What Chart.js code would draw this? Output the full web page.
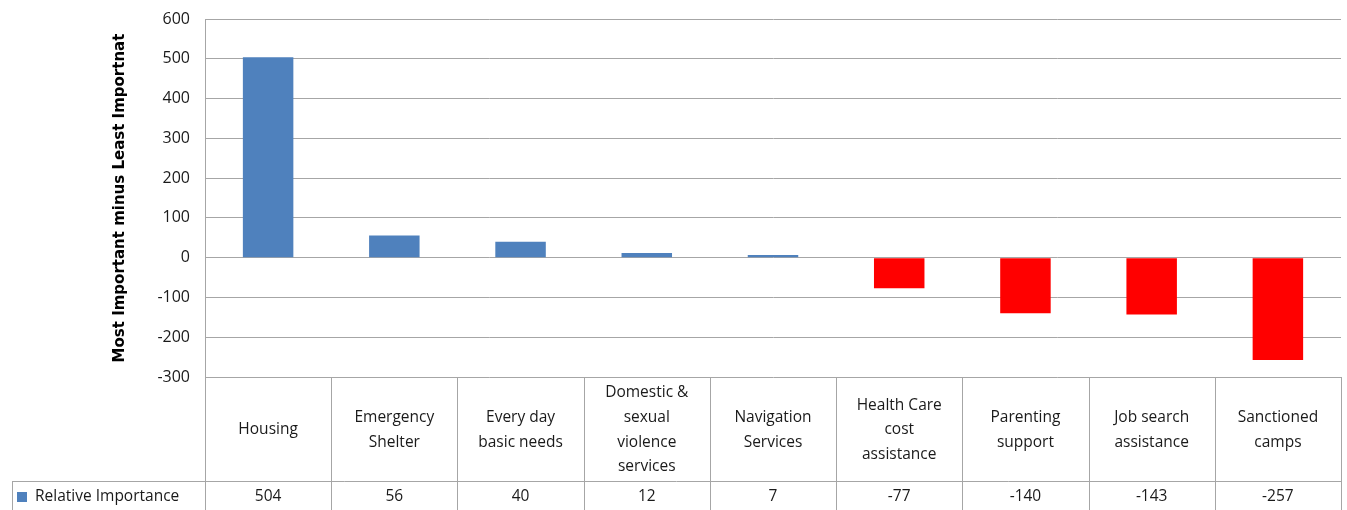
<!DOCTYPE html>
<html>
<head>
<meta charset="utf-8">
<script src="https://cdn.jsdelivr.net/npm/chart.js@4"></script>
<style>
  html, body { margin: 0; padding: 0; background: #fff; }
  #wrap { width: 1347px; height: 510px; }
</style>
</head>
<body>
<div id="wrap"><canvas id="myChart" width="1347" height="510"></canvas></div>
<script>
// ===== data =====
const categories = [
    ['Housing'],
    ['Emergency', 'Shelter'],
    ['Every day', 'basic needs'],
    ['Domestic &', 'sexual', 'violence', 'services'],
    ['Navigation', 'Services'],
    ['Health Care', 'cost', 'assistance'],
    ['Parenting', 'support'],
    ['Job search', 'assistance'],
    ['Sanctioned', 'camps']
];
const seriesName = 'Relative Importance';
const values = [504, 56, 40, 12, 7, -77, -140, -143, -257];
const yTicks = [-300, -200, -100, 0, 100, 200, 300, 400, 500, 600];

const BLUE = '#4F81BD';
const RED = '#FF0000';
const GRID = '#a6a6a6';
const FONT = '"Open Sans", Lato, sans-serif';

//============================
//  data table under the plot
//============================
const dataTable = {
    id: 'dataTable',
    afterDraw(chart) {
        const { ctx, chartArea } = chart;
        const x = chart.scales.x;
        const n = categories.length;
        const step = (chartArea.right - chartArea.left) / n;
        const top = chartArea.bottom;
        const rowY = top + 104;
        const bottom = chart.height;
        const legendLeft = 12;

        ctx.save();
        ctx.strokeStyle = GRID;
        ctx.lineWidth = 1;

        // vertical cell lines
        for (let i = 0; i <= n; i++) {
            const px = Math.round(chartArea.left + i * step) + 0.5;
            ctx.beginPath();
            ctx.moveTo(px, top);
            ctx.lineTo(px, bottom);
            ctx.stroke();
        }
        // legend cell left border
        ctx.beginPath();
        ctx.moveTo(legendLeft + 0.5, rowY);
        ctx.lineTo(legendLeft + 0.5, bottom);
        ctx.stroke();
        // horizontal line between rows
        ctx.beginPath();
        ctx.moveTo(legendLeft, Math.round(rowY) + 0.5);
        ctx.lineTo(chartArea.right, Math.round(rowY) + 0.5);
        ctx.stroke();

        // category labels
        ctx.fillStyle = '#1a1a1a';
        ctx.font = '15.5px ' + FONT;
        ctx.textAlign = 'center';
        ctx.textBaseline = 'middle';
        const lh = 24.7;
        const midHead = (top + rowY) / 2 + 1;
        categories.forEach((lines, i) => {
            const cx = x.getPixelForValue(i);
            const y0 = midHead - (lines.length - 1) * lh / 2;
            lines.forEach((t, j) => ctx.fillText(t, cx, y0 + j * lh));
        });

        // values row
        const midVal = rowY + 16;
        values.forEach((v, i) => {
            ctx.fillText(String(v), x.getPixelForValue(i), midVal);
        });

        // legend key
        ctx.fillStyle = BLUE;
        ctx.fillRect(legendLeft + 5, midVal - 5, 10, 10);
        ctx.fillStyle = '#1a1a1a';
        ctx.textAlign = 'left';
        ctx.fillText(seriesName, legendLeft + 23, midVal);
        ctx.restore();
    }
};

const ctx = document.getElementById('myChart').getContext('2d');
new Chart(ctx, {
    type: 'bar',
    data: {
        labels: categories.map(c => c.join(' ')),
        datasets: [{
            label: seriesName,
            data: values,
            backgroundColor: values.map(v => v >= 0 ? BLUE : RED),
            borderWidth: 0,
            categoryPercentage: 1,
            barPercentage: 0.4
        }]
    },
    options: {
        responsive: false,
        animation: false,
        layout: { padding: { top: 19, right: 6, bottom: 133, left: 0 } },
        plugins: {
            legend: { display: false },
            tooltip: { enabled: false }
        },
        scales: {
            x: { display: false },
            y: {
                min: -300,
                max: 600,
                afterBuildTicks: s => { s.ticks = yTicks.map(v => ({ value: v })); },
                afterFit: s => { s.width = 205; s.paddingTop = 0; s.paddingBottom = 0; },
                grid: { color: GRID, lineWidth: 1, drawTicks: false },
                border: { color: GRID, width: 1 },
                ticks: {
                    padding: 15,
                    color: '#1a1a1a',
                    font: { family: FONT, size: 16 }
                },
                title: {
                    display: true,
                    text: 'Most Important minus Least Importnat',
                    color: '#000',
                    font: { family: '"DejaVu Sans", sans-serif', size: 15, weight: 'bold' },
                    padding: { top: 111, bottom: 0 }
                }
            }
        }
    },
    plugins: [dataTable]
});
</script>
</body>
</html>
